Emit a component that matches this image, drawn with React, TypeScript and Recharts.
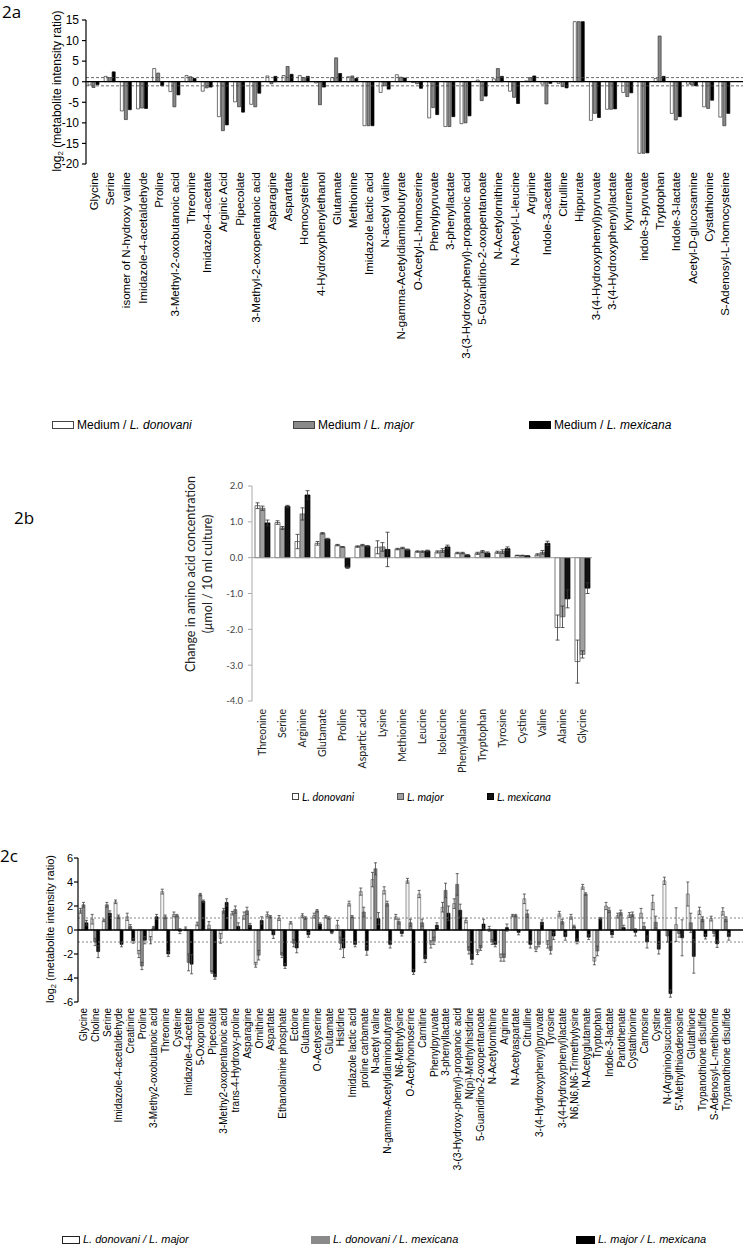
import React from 'react';
import { BarChart, Bar, XAxis, YAxis, ReferenceLine, ErrorBar } from 'recharts';

// ---------- Panel 2a ----------
const CATS_A = [
  'Glycine', 'Serine', 'isomer of N-hydroxy valine', 'Imidazole-4-acetaldehyde', 'Proline',
  '3-Methyl-2-oxobutanoic acid', 'Threonine', 'Imidazole-4-acetate', 'Arginic Acid', 'Pipecolate',
  '3-Methyl-2-oxopentanoic acid', 'Asparagine', 'Aspartate', 'Homocysteine', '4-Hydroxyphenylethanol',
  'Glutamate', 'Methionine', 'Imidazole lactic acid', 'N-acetyl valine', 'N-gamma-Acetyldiaminobutyrate',
  'O-Acetyl-L-homoserine', 'Phenylpyruvate', '3-phenyllactate', '3-(3-Hydroxy-phenyl)-propanoic acid',
  '5-Guanidino-2-oxopentanoate', 'N-Acetylornithine', 'N-Acetyl-L-leucine', 'Arginine', 'Indole-3-acetate',
  'Citrulline', 'Hippurate', '3-(4-Hydroxyphenyl)pyruvate', '3-(4-Hydroxyphenyl)lactate', 'Kynurenate',
  'indole-3-pyruvate', 'Tryptophan', 'Indole-3-lactate', 'Acetyl-D-glucosamine', 'Cystathionine',
  'S-Adenosyl-L-homocysteine',
];
const A_DONOVANI = [-0.8, 1.3, -7.1, -6.6, 3.2, -2.4, 1.5, -2.3, -8.5, -4.9, -5.5, 1.4, 1.5, 1.5, -0.3, 1.0, 1.2, -10.7, -2.6, 1.7, -0.2, -8.8, -10.9, -10.2, 0.4, 0.7, -2.3, 0.2, -0.6, -0.4, 14.6, -9.4, -6.7, -2.6, -17.4, 0.8, -7.7, -0.6, -6.1, -8.6];
const A_MAJOR = [-1.4, 1.0, -9.2, -6.4, 2.1, -6.1, 1.2, -1.5, -11.9, -6.1, -6.1, -0.5, 3.7, 1.0, -5.6, 5.8, 1.4, -10.7, -1.0, 1.1, -0.5, -6.3, -10.9, -10.0, -4.6, 3.2, -3.8, 1.0, -5.4, -1.2, 14.6, -7.7, -6.7, -3.6, -17.4, 11.1, -9.3, -0.8, -6.5, -10.7];
const A_MEXICANA = [-0.7, 2.4, -6.8, -6.5, -1.0, -3.2, 0.8, -1.3, -10.5, -7.4, -2.8, 1.3, 1.8, 1.3, -1.3, 2.0, 0.8, -10.7, -1.8, 0.9, -1.6, -8.0, -8.5, -8.3, -3.5, 1.3, -5.3, 1.4, -0.4, -1.5, 14.6, -8.7, -6.6, -2.7, -17.3, 1.3, -8.5, -1.0, -4.5, -7.7];
const A_TICKS = [15, 10, 5, 0, -5, -10, -15, -20];
const A_LEGEND = ['L. donovani', 'L. major', 'L. mexicana'];

// ---------- Panel 2b ----------
const CATS_B = ['Threonine', 'Serine', 'Arginine', 'Glutamate', 'Proline', 'Aspartic acid', 'Lysine', 'Methionine', 'Leucine', 'Isoleucine', 'Phenylalanine', 'Tryptophan', 'Tyrosine', 'Cystine', 'Valine', 'Alanine', 'Glycine'];
const B_DONOVANI = [1.45, 0.98, 0.45, 0.40, 0.35, 0.31, 0.29, 0.24, 0.17, 0.16, 0.13, 0.12, 0.15, 0.06, 0.08, -1.95, -2.9];
const B_MAJOR = [1.38, 0.83, 1.22, 0.68, 0.30, 0.35, 0.30, 0.27, 0.17, 0.20, 0.13, 0.17, 0.17, 0.06, 0.15, -1.65, -2.7];
const B_MEXICANA = [0.97, 1.43, 1.75, 0.52, -0.27, 0.32, 0.23, 0.22, 0.19, 0.30, 0.07, 0.13, 0.25, 0.05, 0.40, -1.15, -0.85];
const B_DONOVANI_ERR = [0.08, 0.05, 0.2, 0.05, 0.02, 0.02, 0.18, 0.02, 0.02, 0.03, 0.02, 0.03, 0.03, 0.01, 0.03, 0.35, 0.6];
const B_MAJOR_ERR = [0.06, 0.04, 0.17, 0.02, 0.01, 0.02, 0.12, 0.02, 0.02, 0.05, 0.02, 0.03, 0.05, 0.01, 0.05, 0.3, 0.1];
const B_MEXICANA_ERR = [0.08, 0.03, 0.12, 0.02, 0.03, 0.02, 0.48, 0.02, 0.02, 0.05, 0.02, 0.03, 0.05, 0.01, 0.06, 0.25, 0.15];
const B_TICKS = [2, 1, 0, -1, -2, -3, -4];
const B_LEGEND = ['L. donovani', 'L. major', 'L. mexicana'];

// ---------- Panel 2c ----------
const CATS_C = [
  'Glycine', 'Choline', 'Serine', 'Imidazole-4-acetaldehyde', 'Creatinine', 'Proline',
  '3-Methy2-oxobutanoic acid', 'Threonine', 'Cysteine', 'Imidazole-4-acetate', '5-Oxoproline', 'Pipecolate',
  '3-Methy2-oxopentanoic acid', 'trans-4-Hydroxy-proline', 'Asparagine', 'Ornithine', 'Aspartate',
  'Ethanolamine phosphate', 'Ectoine', 'Glutamine', 'O-Acetyserine', 'Glutamate', 'Histidine',
  'Imidazole lactic acid', 'proline carbamate', 'N-acetyl valine', 'N-gamma-Acetyldiaminobutyrate',
  'N6-Methylysine', 'O-Acetyhomoserine', 'Carnitine', 'Phenylpyruvate', '3-phenyllactate',
  '3-(3-Hydroxy-phenyl)-propanoic acid', 'N(pi)-Methylhistidine', '5-Guanidino-2-oxopentanoate',
  'N-Acetylornithine', 'Arginine', 'N-Acetyaspartate', 'Citrulline', '3-(4-Hydroxyphenyl)pyruvate',
  'Tyrosine', '3-(4-Hydroxyphenyl)lactate', 'N6,N6,N6-Trimethylysine', 'N-Acetyglutamate', 'Tryptophan',
  'Indole-3-lactate', 'Pantothenate', 'Cystathionine', 'Carnosine', 'Cystine', 'N-(Arginino)succinate',
  "5'-Methylthioadenosine", 'Glutathione', 'Trypanothione disulfide', 'S-Adenosyl-L-methionine',
  'Trypanothione disulfide',
];
const C_DON_MAJ = [1.6, 0.9, 0.8, 2.35, 1.1, -2.0, -0.85, 3.2, 1.3, 0.1, 0.5, 0.4, -0.7, 1.4, 1.2, -2.9, 1.3, 1.0, 0.6, 1.2, 1.2, 1.1, 0.4, 2.2, 3.2, 4.2, 3.3, 1.1, 4.1, 3.0, -1.2, 1.9, 2.2, 0.8, -1.85, 0.1, -2.3, 1.2, 2.6, -1.6, -1.2, 1.35, 1.1, 3.6, -2.6, 2.0, 1.2, 1.25, 1.4, 2.3, 4.1, 0.45, 3.0, 1.6, 0.95, 1.55];
const C_DON_MEX = [2.1, -1.0, 2.1, 1.1, 0.3, -3.0, 0.2, 1.1, 1.2, -2.7, 2.95, -3.5, 1.6, 1.7, 1.6, -2.1, 1.1, -2.1, -1.1, 1.0, 1.6, 1.0, -1.1, 1.1, 1.5, 5.1, 2.2, 0.7, 0.6, 0.6, -0.9, 3.3, 3.8, -1.7, -1.5, -1.0, -2.3, 1.2, 1.35, -1.2, -1.7, 0.7, 0.3, 3.0, -1.75, 1.65, 1.45, 1.3, 0.3, 0.65, -0.5, -0.3, 0.6, 0.9, -0.3, 0.9];
const C_MAJ_MEX = [0.6, -1.8, 1.4, -1.2, -0.9, -0.85, 1.1, -2.0, -0.1, -2.85, 2.4, -3.9, 2.3, 0.3, 0.4, 0.8, -0.4, -3.0, -1.5, -0.4, 0.5, -0.2, -1.5, -1.2, -1.7, 0.95, -1.2, -0.3, -3.5, -2.4, 0.4, 1.4, 1.65, -2.45, 0.5, -1.2, 0.2, -0.2, -1.2, 0.65, -0.5, -0.55, -0.95, -0.6, 0.95, -0.4, 0.2, -0.2, -1.0, -1.6, -5.3, -0.65, -2.2, -0.55, -1.15, -0.55];
const C_DON_MAJ_ERR = [0.2, 0.4, 0.1, 0.15, 0.3, 0.3, 0.3, 0.2, 0.2, 0.15, 0.15, 0.3, 0.4, 0.15, 0.3, 0.2, 0.2, 0.2, 0.1, 0.15, 0.2, 0.1, 0.4, 0.2, 0.3, 0.6, 0.3, 0.2, 0.2, 0.3, 0.3, 0.4, 0.4, 0.2, 0.2, 0.2, 0.3, 0.1, 0.4, 0.2, 0.3, 0.2, 0.2, 0.2, 0.3, 0.3, 0.2, 0.2, 0.4, 0.6, 0.3, 1.4, 1.0, 0.3, 0.2, 0.3];
const C_DON_MEX_ERR = [0.2, 0.3, 0.2, 0.15, 0.15, 0.3, 0.1, 0.15, 0.1, 0.7, 0.1, 0.1, 0.2, 0.3, 0.3, 0.4, 0.1, 0.2, 0.3, 0.1, 0.1, 0.1, 0.5, 0.1, 0.4, 0.5, 0.2, 0.2, 0.3, 0.3, 0.3, 0.6, 0.9, 0.3, 0.2, 0.2, 0.3, 0.1, 0.3, 0.2, 0.3, 0.2, 0.1, 0.1, 0.4, 0.2, 0.2, 0.2, 0.3, 0.5, 0.5, 0.3, 0.8, 0.2, 0.2, 0.2];
const C_MAJ_MEX_ERR = [0.2, 0.5, 0.2, 0.2, 0.2, 0.3, 0.2, 0.2, 0.2, 0.8, 0.1, 0.2, 0.3, 0.3, 0.15, 0.3, 0.3, 0.2, 0.4, 0.2, 0.1, 0.1, 0.8, 0.2, 0.4, 0.5, 0.3, 0.2, 0.2, 0.3, 0.2, 0.6, 0.5, 0.4, 0.4, 0.2, 0.3, 0.2, 0.3, 0.2, 0.3, 0.3, 0.2, 0.2, 0.1, 0.2, 0.2, 0.3, 0.5, 0.4, 0.3, 1.5, 1.4, 0.2, 0.3, 0.3];
const C_TICKS = [6, 4, 2, 0, -2, -4, -6];
const C_LEGEND = ['L. donovani / L. major', 'L. donovani / L. mexicana', 'L. major / L. mexicana'];

const ARIAL = '"Liberation Sans", Arial, sans-serif';
const CALIBRI = 'Lato, "Open Sans", sans-serif';
const HEAD = '"Open Sans", "Noto Sans", sans-serif';

const dataA = CATS_A.map((name, i) => ({ name, don: A_DONOVANI[i], maj: A_MAJOR[i], mex: A_MEXICANA[i] }));
const dataB = CATS_B.map((name, i) => ({
  name, don: B_DONOVANI[i], maj: B_MAJOR[i], mex: B_MEXICANA[i],
  donE: B_DONOVANI_ERR[i], majE: B_MAJOR_ERR[i], mexE: B_MEXICANA_ERR[i],
}));
const dataC = CATS_C.map((name, i) => ({
  k: i, name, a: C_DON_MAJ[i], b: C_DON_MEX[i], c: C_MAJ_MEX[i],
  aE: C_DON_MAJ_ERR[i], bE: C_DON_MEX_ERR[i], cE: C_MAJ_MEX_ERR[i],
}));

function RotTick(props: any) {
  const { x, y, payload, labels, fontSize, fontFamily, fill, dy } = props;
  const label = labels ? labels[payload.value] : payload.value;
  return (
    <text
      x={0}
      y={0}
      transform={`translate(${x},${y + (dy || 0)}) rotate(-90)`}
      textAnchor="end"
      dominantBaseline="central"
      fontSize={fontSize}
      fontFamily={fontFamily}
      fill={fill}
    >
      {label}
    </text>
  );
}

function LegendItem({ left, top, w, h, fill, stroke, font, size, children }: any) {
  return (
    <div style={{ position: 'absolute', left, top, display: 'flex', alignItems: 'center', whiteSpace: 'nowrap', fontFamily: font, fontSize: size, color: '#000', lineHeight: 1 }}>
      <span style={{ display: 'inline-block', width: w, height: h, background: fill, border: `1px solid ${stroke}`, boxSizing: 'border-box', marginRight: 3 }} />
      <span>{children}</span>
    </div>
  );
}

export default function App() {
  return (
    <div style={{ position: 'absolute', left: 0, top: 0, width: 744, height: 1246, background: '#fff', overflow: 'hidden' }}>
      {/* Panel labels */}
      <div style={{ position: 'absolute', left: 2, top: 0, fontFamily: HEAD, fontSize: 17, color: '#000' }}>2a</div>
      <div style={{ position: 'absolute', left: 14, top: 506, fontFamily: HEAD, fontSize: 17, color: '#000' }}>2b</div>
      <div style={{ position: 'absolute', left: 0, top: 844, fontFamily: HEAD, fontSize: 17, color: '#000' }}>2c</div>

      {/* ---- 2a ---- */}
      <div style={{ position: 'absolute', left: 0, top: 0 }}>
        <BarChart width={744} height={370} data={dataA} margin={{ top: 20, right: 1, bottom: 0, left: 0 }} barCategoryGap={2} barGap={1}>
          <XAxis
            dataKey="name"
            interval={0}
            axisLine={false}
            tickLine={false}
            height={206}
            padding={{ left: 0, right: 10 }}
            tick={(p: any) => <RotTick {...p} fontSize={11.5} fontFamily={ARIAL} fill="#000" dy={0} />}
          />
          <YAxis
            width={86}
            domain={[-20, 15]}
            ticks={A_TICKS}
            interval={0}
            allowDataOverflow
            tickSize={4}
            tickMargin={3}
            axisLine={{ stroke: '#000', strokeWidth: 1.2 }}
            tickLine={{ stroke: '#000', strokeWidth: 1.2 }}
            tick={{ fontSize: 12, fill: '#000', fontFamily: ARIAL }}
          />
          <ReferenceLine y={1} stroke="#444" strokeDasharray="3 2" strokeWidth={0.8} />
          <ReferenceLine y={-1} stroke="#444" strokeDasharray="3 2" strokeWidth={0.8} />
          <Bar dataKey="don" name={A_LEGEND[0]} fill="#ffffff" stroke="#333" strokeWidth={0.7} isAnimationActive={false} />
          <Bar dataKey="maj" name={A_LEGEND[1]} fill="#8a8a8a" stroke="#333" strokeWidth={0.7} isAnimationActive={false} />
          <Bar dataKey="mex" name={A_LEGEND[2]} fill="#000000" stroke="#000" strokeWidth={0.7} isAnimationActive={false} />
          <ReferenceLine y={0} stroke="#000" strokeWidth={1.3} />
        </BarChart>
      </div>
      <svg style={{ position: 'absolute', left: 0, top: 0 }} width={100} height={200}>
        <text transform="translate(57,91) rotate(-90)" textAnchor="middle" dominantBaseline="central" fontFamily={ARIAL} fontSize={12} fill="#000">
          log<tspan dy={3} fontSize={8}>2</tspan><tspan dy={-3}> (metabolite intensity ratio)</tspan>
        </text>
      </svg>
      <LegendItem left={52} top={419} w={22} h={8} fill="#fff" stroke="#444" font={ARIAL} size={12}>Medium / <i>{A_LEGEND[0]}</i></LegendItem>
      <LegendItem left={293} top={419} w={22} h={8} fill="#8a8a8a" stroke="#444" font={ARIAL} size={12}>Medium / <i>{A_LEGEND[1]}</i></LegendItem>
      <LegendItem left={529} top={419} w={22} h={8} fill="#000" stroke="#000" font={ARIAL} size={12}>Medium / <i>{A_LEGEND[2]}</i></LegendItem>

      {/* ---- 2b ---- */}
      <div style={{ position: 'absolute', left: 0, top: 470 }}>
        <BarChart width={744} height={306} data={dataB} margin={{ top: 16, right: 152, bottom: 0, left: 0 }} barCategoryGap={3} barGap={0}>
          <XAxis
            dataKey="name"
            interval={0}
            axisLine={false}
            tickLine={false}
            height={75}
            tick={(p: any) => <RotTick {...p} fontSize={10.5} fontFamily={CALIBRI} fill="#222" dy={0} />}
          />
          <YAxis
            width={252}
            domain={[-4, 2]}
            ticks={B_TICKS}
            interval={0}
            allowDataOverflow
            tickSize={4}
            tickMargin={5}
            tickFormatter={(v: number) => v.toFixed(1)}
            axisLine={{ stroke: '#aaa' }}
            tickLine={{ stroke: '#aaa' }}
            tick={{ fontSize: 9.5, fill: '#444', fontFamily: CALIBRI }}
          />
          <ReferenceLine y={0} stroke="#999" />
          <Bar dataKey="don" name={B_LEGEND[0]} fill="#ffffff" stroke="#444" strokeWidth={0.7} isAnimationActive={false}>
            <ErrorBar dataKey="donE" width={2} stroke="#333" strokeWidth={0.8} />
          </Bar>
          <Bar dataKey="maj" name={B_LEGEND[1]} fill="#a0a0a0" stroke="#555" strokeWidth={0.7} isAnimationActive={false}>
            <ErrorBar dataKey="majE" width={2} stroke="#333" strokeWidth={0.8} />
          </Bar>
          <Bar dataKey="mex" name={B_LEGEND[2]} fill="#111" stroke="#000" strokeWidth={0.7} isAnimationActive={false}>
            <ErrorBar dataKey="mexE" width={2} stroke="#333" strokeWidth={0.8} />
          </Bar>
        </BarChart>
      </div>
      <svg style={{ position: 'absolute', left: 150, top: 460 }} width={80} height={240}>
        <text transform="translate(40,114) rotate(-90)" textAnchor="middle" dominantBaseline="central" fontFamily={CALIBRI} fontSize={12.5} fill="#222">
          Change in amino acid concentration
        </text>
        <text transform="translate(57,114) rotate(-90)" textAnchor="middle" dominantBaseline="central" fontFamily={CALIBRI} fontSize={12.5} fill="#222">
          (<tspan fontStyle="italic">µ</tspan>mol / 10 ml culture)
        </text>
      </svg>
      <LegendItem left={292} top={791} w={7} h={7} fill="#fff" stroke="#444" font={CALIBRI} size={11}><i>{B_LEGEND[0]}</i></LegendItem>
      <LegendItem left={397} top={791} w={7} h={7} fill="#a0a0a0" stroke="#555" font={CALIBRI} size={11}><i>{B_LEGEND[1]}</i></LegendItem>
      <LegendItem left={487} top={791} w={7} h={7} fill="#111" stroke="#000" font={CALIBRI} size={11}><i>{B_LEGEND[2]}</i></LegendItem>

      {/* ---- 2c ---- */}
      <div style={{ position: 'absolute', left: 0, top: 840 }}>
        <BarChart width={744} height={357} data={dataC} margin={{ top: 18, right: 1, bottom: 0, left: 0 }} barCategoryGap={1} barGap={0}>
          <XAxis
            dataKey="k"
            interval={0}
            axisLine={false}
            tickLine={false}
            height={195}
            padding={{ left: 0, right: 11 }}
            tick={(p: any) => <RotTick {...p} labels={CATS_C} fontSize={10} fontFamily={ARIAL} fill="#000" dy={-2} />}
          />
          <YAxis
            width={78}
            domain={[-6, 6]}
            ticks={C_TICKS}
            interval={0}
            allowDataOverflow
            tickSize={4}
            tickMargin={1}
            axisLine={{ stroke: '#000', strokeWidth: 1.2 }}
            tickLine={{ stroke: '#000', strokeWidth: 1.2 }}
            tick={{ fontSize: 11, fill: '#000', fontFamily: ARIAL }}
          />
          <ReferenceLine y={1} stroke="#777" strokeDasharray="2 2" strokeWidth={0.9} />
          <ReferenceLine y={-1} stroke="#777" strokeDasharray="2 2" strokeWidth={0.9} />
          <Bar dataKey="a" name={C_LEGEND[0]} fill="#f4f4f4" stroke="#555" strokeWidth={0.6} isAnimationActive={false}>
            <ErrorBar dataKey="aE" width={1.5} stroke="#444" strokeWidth={0.8} />
          </Bar>
          <Bar dataKey="b" name={C_LEGEND[1]} fill="#8a8a8a" stroke="#444" strokeWidth={0.6} isAnimationActive={false}>
            <ErrorBar dataKey="bE" width={1.5} stroke="#444" strokeWidth={0.8} />
          </Bar>
          <Bar dataKey="c" name={C_LEGEND[2]} fill="#000" stroke="#000" strokeWidth={0.6} isAnimationActive={false}>
            <ErrorBar dataKey="cE" width={1.5} stroke="#444" strokeWidth={0.8} />
          </Bar>
          <ReferenceLine y={0} stroke="#000" strokeWidth={1.3} />
        </BarChart>
      </div>
      <svg style={{ position: 'absolute', left: 0, top: 840 }} width={80} height={180}>
        <text transform="translate(50,89) rotate(-90)" textAnchor="middle" dominantBaseline="central" fontFamily={ARIAL} fontSize={11} fill="#000">
          log<tspan dy={3} fontSize={7.5}>2</tspan><tspan dy={-3}> (metabolite intensity ratio)</tspan>
        </text>
      </svg>
      <LegendItem left={62} top={1234} w={18} h={8} fill="#fff" stroke="#222" font={ARIAL} size={11}><i>{C_LEGEND[0]}</i></LegendItem>
      <LegendItem left={311} top={1234} w={19} h={8} fill="#8a8a8a" stroke="#8a8a8a" font={ARIAL} size={11}><i>{C_LEGEND[1]}</i></LegendItem>
      <LegendItem left={576} top={1234} w={19} h={8} fill="#000" stroke="#000" font={ARIAL} size={11}><i>{C_LEGEND[2]}</i></LegendItem>
    </div>
  );
}
